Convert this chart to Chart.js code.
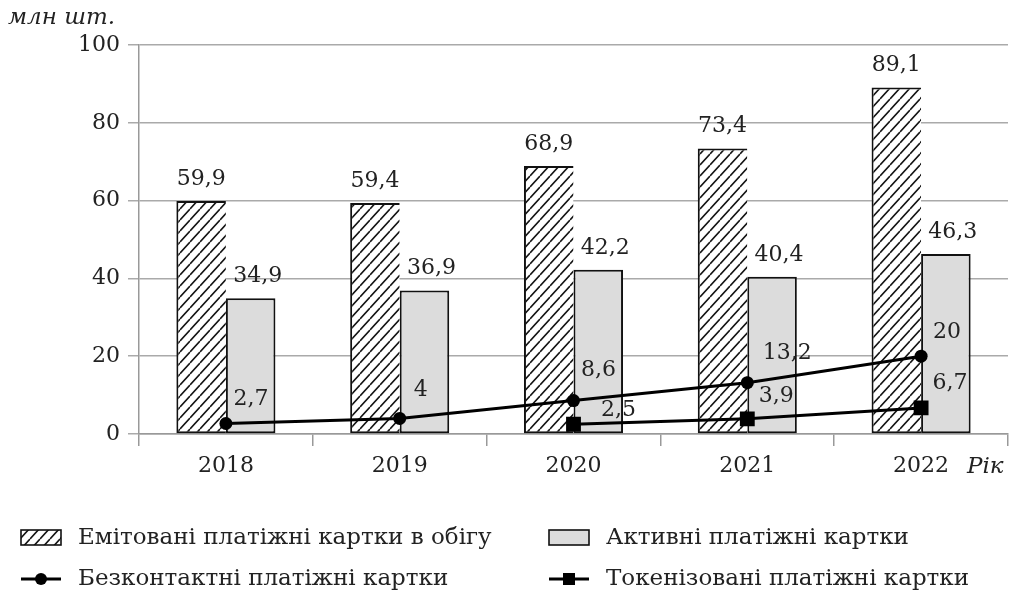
<!DOCTYPE html>
<html><head><meta charset="utf-8">
<script src="https://cdn.jsdelivr.net/npm/chart.js@4"></script>
<style>html,body{margin:0;padding:0;background:#fff;overflow:hidden}#wrap{width:1010px;height:593px;position:relative}</style>
</head><body><div id="wrap"><canvas id="c"></canvas></div>
<script>
const years = ['2018','2019','2020','2021','2022'];
const issuedCards = [59.9, 59.4, 68.9, 73.4, 89.1];
const activeCards = [34.9, 36.9, 42.2, 40.4, 46.3];
const contactlessCards = [2.7, 4, 8.6, 13.2, 20];
const tokenizedCards = [null, null, 2.5, 3.9, 6.7];
const yTicks = [0, 20, 40, 60, 80, 100];
const seriesNames = ['Емітовані платіжні картки в обігу', 'Активні платіжні картки', 'Безконтактні платіжні картки', 'Токенізовані платіжні картки'];
const yUnit = 'млн шт.';
const xUnit = 'Рік';

const FONT = 'DejaVu Serif';
const TXT = '#222';

function makeHatch(){
  const w = 10, h = 11;
  const c = document.createElement('canvas'); c.width = w; c.height = h;
  const g = c.getContext('2d');
  g.fillStyle = '#fff'; g.fillRect(0,0,w,h);
  g.strokeStyle = '#151515'; g.lineWidth = 1.6;
  g.beginPath();
  for (let k=-1;k<=1;k++){ g.moveTo(0, h + k*h); g.lineTo(w, k*h); }
  g.stroke();
  return g.createPattern(c, 'repeat');
}
const hatch = makeHatch();
const fmt = v => String(v).replace('.', ',');

const lineLabelOffsets = {
  2: [[25,-24],[21,-28],[25,-30],[40,-29],[26,-24]],
  3: [null,null,[45,-14],[29,-23],[29,-25]]
};

const labelsPlugin = {
  id:'labelsPlugin',
  afterDatasetsDraw(chart){
    const ctx = chart.ctx;
    ctx.save();
    ctx.font = '22px "'+FONT+'"';
    ctx.fillStyle = TXT;
    ctx.textAlign = 'center';
    [0,1].forEach(di=>{
      const meta = chart.getDatasetMeta(di);
      meta.data.forEach((bar,i)=>{
        const v = chart.data.datasets[di].data[i];
        ctx.textBaseline = 'alphabetic';
        ctx.fillText(fmt(v), bar.x + (di===1?7:0), bar.y - 16);
      });
    });
    [2,3].forEach(di=>{
      const meta = chart.getDatasetMeta(di);
      meta.data.forEach((pt,i)=>{
        const v = chart.data.datasets[di].data[i];
        if (v===null) return;
        const o = lineLabelOffsets[di][i];
        ctx.textBaseline = 'middle';
        ctx.fillText(fmt(v), pt.x + o[0], pt.y + o[1]);
      });
    });
    ctx.restore();
  },
  afterDraw(chart){
    const ctx = chart.ctx;
    ctx.save();
    ctx.fillStyle = TXT;
    ctx.font = 'italic 23px "'+FONT+'"';
    ctx.textBaseline = 'middle';
    ctx.textAlign = 'left';
    ctx.fillText(yUnit, 8, 18);
    ctx.fillText(xUnit, 967, 467);
    const ds = chart.data.datasets;
    const items = [
      {i:0, x:21, y:538}, {i:1, x:549, y:538},
      {i:2, x:21, y:579}, {i:3, x:549, y:579}
    ];
    ctx.font = '23px "'+FONT+'"';
    items.forEach(it=>{
      const d = ds[it.i];
      if (it.i < 2){
        ctx.fillStyle = d.backgroundColor;
        ctx.fillRect(it.x, it.y-8, 40, 15);
        ctx.strokeStyle = '#111'; ctx.lineWidth = 1.6;
        ctx.strokeRect(it.x, it.y-8, 40, 15);
      } else {
        ctx.strokeStyle = '#000'; ctx.lineWidth = 3;
        ctx.beginPath(); ctx.moveTo(it.x, it.y); ctx.lineTo(it.x+40, it.y); ctx.stroke();
        ctx.fillStyle = '#000';
        if (d.pointStyle === 'circle'){
          ctx.beginPath(); ctx.arc(it.x+20, it.y, 6, 0, Math.PI*2); ctx.fill();
        } else {
          ctx.fillRect(it.x+14, it.y-6, 12, 12);
        }
      }
      ctx.fillStyle = TXT;
      ctx.textAlign = 'left';
      ctx.fillText(d.label, it.x + 57, it.y);
    });
    ctx.restore();
  }
};

new Chart(document.getElementById('c'), {
  data:{
    labels: years,
    datasets:[
      {type:'bar', label:seriesNames[0], data:issuedCards, backgroundColor:hatch, borderColor:'#111',
       borderWidth:{top:2,left:2,bottom:2,right:0}, borderSkipped:false, order:2},
      {type:'bar', label:seriesNames[1], data:activeCards, backgroundColor:'#dcdcdc', borderColor:'#111',
       borderWidth:2, borderSkipped:false, order:2},
      {type:'line', label:seriesNames[2], data:contactlessCards, borderColor:'#000', backgroundColor:'#000',
       borderWidth:3, pointStyle:'circle', pointRadius:6.5, pointBorderWidth:0, tension:0, order:0},
      {type:'line', label:seriesNames[3], data:tokenizedCards, borderColor:'#000', backgroundColor:'#000',
       borderWidth:3, pointStyle:'rect', pointRadius:10.5, pointBorderWidth:0, tension:0, order:0}
    ]
  },
  options:{
    responsive:true, maintainAspectRatio:false, animation:false,
    layout:{autoPadding:false, padding:{top:45, right:2, left:0, bottom:0}},
    datasets:{bar:{categoryPercentage:0.57, barPercentage:1}},
    plugins:{legend:{display:false}, tooltip:{enabled:false}},
    scales:{
      x:{
        grid:{display:true, drawOnChartArea:false, drawTicks:true, tickLength:12, color:'#999', lineWidth:1.5, offset:true},
        border:{color:'#999', width:1.5},
        ticks:{font:{family:FONT, size:22}, color:TXT, padding:7},
        afterFit(s){ s.height = 159; s.paddingLeft = 0; s.paddingRight = 0; }
      },
      y:{
        min:0, max:100,
        afterBuildTicks(s){ s.ticks = yTicks.map(v=>({value:v})); },
        ticks:{font:{family:FONT, size:22}, color:TXT, padding:8},
        grid:{color:'#aaa', lineWidth:1.5, tickLength:11, drawTicks:true},
        border:{color:'#999', width:1.5},
        afterFit(s){ s.width = 139; }
      }
    }
  },
  plugins:[labelsPlugin]
});
</script>
</body></html>
